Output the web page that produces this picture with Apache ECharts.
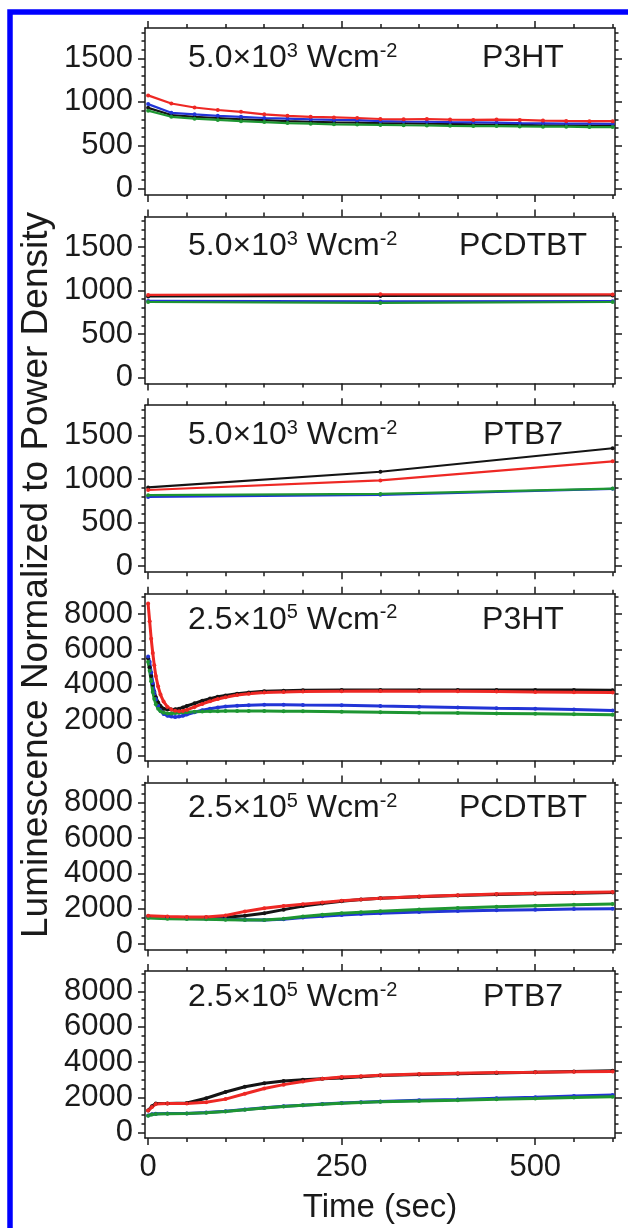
<!DOCTYPE html>
<html>
<head>
<meta charset="utf-8">
<script src="https://cdn.jsdelivr.net/npm/echarts@6/dist/echarts.min.js"></script>
<style>
  html, body { margin: 0; padding: 0; background: #fff; }
  #chart { width: 628px; height: 1228px; }
</style>
</head>
<body>
<div id="chart"></div>
<script>
// tick values
const timeTicks = [0, 250, 500];
const timeMinor = [0, 50, 100, 150, 200, 250, 300, 350, 400, 450, 500, 550, 600];
const lowTicks = [0, 500, 1000, 1500];
const lowMinor = [0, 100, 200, 300, 400, 500, 600, 700, 800, 900, 1000, 1100, 1200, 1300, 1400, 1500, 1600, 1700, 1800];
const highTicks = [0, 2000, 4000, 6000, 8000];
const highMinor = [0, 500, 1000, 1500, 2000, 2500, 3000, 3500, 4000, 4500, 5000, 5500, 6000, 6500, 7000, 7500, 8000, 8500, 9000];

// panel 1: 5.0e3 W/cm2, P3HT
const p1Time = [0, 30, 60, 90, 120, 150, 180, 210, 240, 270, 300, 330, 360, 390, 420, 450, 480, 510, 540, 570, 600];
const p1Black = [932, 850, 829, 815, 800, 790, 779, 772, 765, 761, 757, 754, 750, 747, 743, 740, 736, 732, 732, 729, 729];
const p1Blue = [975, 875, 857, 840, 829, 815, 808, 800, 793, 790, 779, 775, 772, 768, 765, 761, 757, 754, 750, 750, 747];
const p1Green = [900, 829, 808, 793, 779, 768, 757, 750, 743, 740, 736, 732, 729, 725, 722, 722, 718, 715, 715, 711, 711];
const p1Red = [1075, 982, 936, 907, 886, 857, 840, 829, 822, 815, 804, 800, 804, 797, 793, 797, 793, 786, 782, 779, 779];

// panel 2: 5.0e3 W/cm2, PCDTBT
const p2Time = [0, 300, 600];
const p2Black = [932, 938, 943];
const p2Blue = [880, 875, 878];
const p2Green = [868, 858, 868];
const p2Red = [950, 957, 955];

// panel 3: 5.0e3 W/cm2, PTB7
const p3Time = [0, 300, 600];
const p3Black = [905, 1085, 1355];
const p3Blue = [795, 820, 888];
const p3Green = [815, 830, 892];
const p3Red = [875, 985, 1205];

// panel 4: 2.5e5 W/cm2, P3HT
const p4Time = [0, 2, 4, 6, 8, 10, 13, 16, 20, 25, 30, 35, 40, 45, 50, 60, 70, 80, 90, 100, 115, 130, 150, 175, 200, 250, 300, 350, 400, 450, 500, 550, 600];
const p4Black = [5500, 5000, 4500, 4000, 3600, 3300, 3000, 2800, 2650, 2600, 2600, 2620, 2650, 2720, 2800, 2950, 3100, 3220, 3320, 3400, 3500, 3570, 3630, 3670, 3690, 3700, 3710, 3710, 3710, 3700, 3700, 3700, 3690];
const p4Blue = [5600, 5300, 4700, 4100, 3600, 3200, 2800, 2550, 2350, 2250, 2200, 2180, 2200, 2250, 2320, 2450, 2560, 2650, 2720, 2770, 2820, 2850, 2870, 2870, 2860, 2850, 2800, 2760, 2720, 2680, 2650, 2600, 2550];
const p4Green = [5300, 4800, 4200, 3600, 3200, 2900, 2650, 2500, 2420, 2380, 2380, 2400, 2420, 2440, 2450, 2470, 2490, 2500, 2510, 2520, 2520, 2520, 2520, 2510, 2500, 2480, 2450, 2420, 2400, 2380, 2360, 2330, 2300];
const p4Red = [8600, 7600, 6600, 5800, 5100, 4500, 3900, 3450, 3050, 2750, 2600, 2530, 2500, 2520, 2580, 2750, 2920, 3070, 3200, 3300, 3420, 3500, 3560, 3600, 3620, 3640, 3650, 3640, 3630, 3620, 3600, 3580, 3560];

// panel 5: 2.5e5 W/cm2, PCDTBT
const p5Time = [0, 25, 50, 75, 100, 125, 150, 175, 200, 225, 250, 275, 300, 350, 400, 450, 500, 550, 600];
const p5Black = [1560, 1520, 1500, 1500, 1520, 1600, 1750, 1950, 2150, 2300, 2420, 2520, 2590, 2680, 2750, 2800, 2850, 2880, 2920];
const p5Blue = [1520, 1480, 1450, 1430, 1400, 1380, 1360, 1400, 1500, 1580, 1650, 1700, 1750, 1820, 1870, 1910, 1950, 1980, 2000];
const p5Green = [1480, 1440, 1420, 1400, 1380, 1360, 1360, 1440, 1560, 1660, 1740, 1800, 1860, 1960, 2040, 2110, 2170, 2220, 2270];
const p5Red = [1600, 1560, 1540, 1540, 1620, 1850, 2030, 2150, 2250, 2350, 2450, 2530, 2600, 2700, 2770, 2830, 2880, 2920, 2950];

// panel 6: 2.5e5 W/cm2, PTB7
const p6Time = [0, 5, 10, 25, 50, 75, 100, 125, 150, 175, 200, 225, 250, 275, 300, 350, 400, 450, 500, 550, 600];
const p6Black = [1250, 1500, 1650, 1650, 1680, 1950, 2300, 2600, 2800, 2920, 3000, 3050, 3100, 3170, 3230, 3300, 3340, 3380, 3420, 3460, 3500];
const p6Blue = [980, 1040, 1070, 1080, 1090, 1140, 1210, 1310, 1410, 1490, 1560, 1620, 1680, 1730, 1770, 1830, 1880, 1950, 2010, 2080, 2140];
const p6Green = [960, 1030, 1060, 1070, 1080, 1130, 1200, 1300, 1400, 1480, 1550, 1610, 1660, 1710, 1750, 1800, 1840, 1890, 1940, 1990, 2040];
const p6Red = [1250, 1450, 1620, 1650, 1650, 1720, 1900, 2200, 2500, 2720, 2900, 3050, 3150, 3200, 3250, 3320, 3360, 3400, 3420, 3450, 3470];

const FONT = '"Liberation Sans", Arial, Helvetica, sans-serif';
const INK = '#1a1a1a';
const COLORS = { black: '#141414', blue: '#2234d6', green: '#1e9632', red: '#ee2824' };

const low = { min: -70, max: 1850, ticks: lowTicks, minor: lowMinor, titleDy: 30 };
const high = { min: -300, max: 9150, ticks: highTicks, minor: highMinor, titleDy: 26 };

const panels = [
  { power: '5.0×10', exp: '3', polymer: 'P3HT', scale: low, time: p1Time, lines: { black: p1Black, blue: p1Blue, green: p1Green, red: p1Red } },
  { power: '5.0×10', exp: '3', polymer: 'PCDTBT', scale: low, time: p2Time, lines: { black: p2Black, blue: p2Blue, green: p2Green, red: p2Red } },
  { power: '5.0×10', exp: '3', polymer: 'PTB7', scale: low, time: p3Time, lines: { black: p3Black, blue: p3Blue, green: p3Green, red: p3Red } },
  { power: '2.5×10', exp: '5', polymer: 'P3HT', scale: high, time: p4Time, lines: { black: p4Black, blue: p4Blue, green: p4Green, red: p4Red } },
  { power: '2.5×10', exp: '5', polymer: 'PCDTBT', scale: high, time: p5Time, lines: { black: p5Black, blue: p5Blue, green: p5Green, red: p5Red } },
  { power: '2.5×10', exp: '5', polymer: 'PTB7', scale: high, time: p6Time, lines: { black: p6Black, blue: p6Blue, green: p6Green, red: p6Red } }
];

const LEFT = 145, WIDTH = 470, TOP0 = 28, STEP = 188.6, HEIGHT = 167;

const grids = [], xAxes = [], yAxes = [], series = [], graphics = [];

const tickAxis = (pos, vals, len, withLine, withLabel) => ({
  position: pos,
  axisLine: { show: withLine, onZero: false, lineStyle: { color: INK, width: 1.5 } },
  axisTick: { show: true, inside: false, length: len, customValues: vals, lineStyle: { color: INK, width: 1.5 } },
  axisLabel: { show: withLabel, customValues: vals, fontSize: 31, fontFamily: FONT, color: INK, formatter: v => String(v) },
  splitLine: { show: false }
});

panels.forEach((p, i) => {
  const top = TOP0 + i * STEP;
  const last = i === panels.length - 1;
  grids.push({ left: LEFT, width: WIDTH, top: top, height: HEIGHT });

  const xi = xAxes.length, yi = yAxes.length;
  [
    tickAxis('bottom', timeTicks, 7, true, last),
    tickAxis('bottom', timeMinor, 4, false, false),
    tickAxis('top', timeTicks, 7, true, false),
    tickAxis('top', timeMinor, 4, false, false)
  ].forEach(a => {
    a.gridIndex = i; a.type = 'value'; a.min = -4; a.max = 603;
    a.axisLabel.margin = 14;
    xAxes.push(a);
  });
  [
    tickAxis('left', p.scale.ticks, 7, true, true),
    tickAxis('left', p.scale.minor, 3.5, false, false),
    tickAxis('right', p.scale.ticks, 7, true, false),
    tickAxis('right', p.scale.minor, 3.5, false, false)
  ].forEach(a => {
    a.gridIndex = i; a.type = 'value'; a.min = p.scale.min; a.max = p.scale.max;
    a.axisLabel.margin = 12;
    yAxes.push(a);
  });

  ['black', 'blue', 'green', 'red'].forEach(name => {
    series.push({
      type: 'line',
      name: name,
      xAxisIndex: xi,
      yAxisIndex: yi,
      data: p.time.map((t, k) => [t, p.lines[name][k]]),
      symbol: 'circle',
      symbolSize: 4,
      showSymbol: true,
      itemStyle: { color: COLORS[name] },
      lineStyle: { color: COLORS[name], width: i < 3 ? 2.2 : 3 },
      animation: false,
      silent: true
    });
  });

  const ty = top + p.scale.titleDy;
  graphics.push({
    type: 'text', x: 188, y: ty,
    style: {
      text: '{b|' + p.power + '}{s|' + p.exp + '}{b| Wcm}{s|-2}',
      textVerticalAlign: 'middle',
      rich: {
        b: { fontSize: 32, fontFamily: FONT, fill: INK, lineHeight: 34 },
        s: { fontSize: 20, fontFamily: FONT, fill: INK, lineHeight: 22, verticalAlign: 'top' }
      }
    }
  });
  graphics.push({
    type: 'text', x: 523, y: ty,
    style: { text: p.polymer, font: '32px ' + FONT, fill: INK, textAlign: 'center', textVerticalAlign: 'middle' }
  });
});

// blue frame round the figure
graphics.push({
  type: 'rect', z: 100,
  shape: { x: 10, y: 12, width: 700, height: 1300 },
  style: { fill: 'none', stroke: '#0000ff', lineWidth: 5.5 }
});
graphics.push({
  type: 'text', x: 37, y: 575, rotation: Math.PI / 2,
  style: { text: 'Luminescence Normalized to Power Density', font: '37px ' + FONT, fill: INK, textAlign: 'center', textVerticalAlign: 'middle' }
});
graphics.push({
  type: 'text', x: LEFT + WIDTH / 2, y: 1208,
  style: { text: 'Time (sec)', font: '33px ' + FONT, fill: INK, textAlign: 'center', textVerticalAlign: 'middle' }
});

const chart = echarts.init(document.getElementById('chart'));
chart.setOption({
  backgroundColor: '#ffffff',
  animation: false,
  grid: grids,
  xAxis: xAxes,
  yAxis: yAxes,
  series: series,
  graphic: graphics
});
</script>
</body>
</html>
